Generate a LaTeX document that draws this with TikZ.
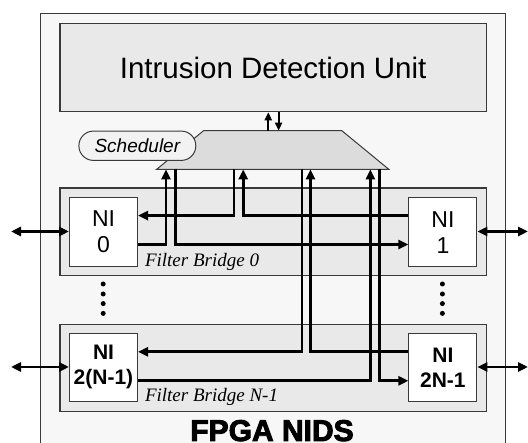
\documentclass[tikz,border=0pt]{standalone}
\usepackage{fontspec}
\setmainfont{Liberation Sans}
\newfontfamily\timesfont{Liberation Serif}
\newfontface\heavyfont[FakeBold=3]{Liberation Sans Bold}
\usetikzlibrary{arrows.meta}
\definecolor{outerfill}{HTML}{F7F7F7}
\definecolor{boxfill}{HTML}{E9E9E9}
\definecolor{schedfill}{HTML}{DCDCDC}
\definecolor{labfill}{HTML}{F2F2F2}
\definecolor{edge}{HTML}{3A3A3A}
\begin{document}
\begin{tikzpicture}[x=1pt,y=-1pt,
  outerbox/.style={draw=edge,line width=1pt,fill=outerfill},
  graybox/.style={draw=edge,line width=1.2pt,fill=boxfill,inner sep=0pt,anchor=north west},
  nibox/.style={draw=edge,line width=1pt,fill=white,inner sep=0pt,anchor=north west,
    minimum width=68pt,minimum height=68.4pt,align=center,font=\fontsize{23}{26}\selectfont},
  conn/.style={line width=2.8pt,-{Triangle[length=10pt,width=9pt]}},
  biconn/.style={line width=2.8pt,{Triangle[length=10pt,width=9pt]}-{Triangle[length=10pt,width=9pt]}},
  thinconn/.style={line width=2pt,-{Triangle[length=8pt,width=7pt]}},
  fblabel/.style={font=\timesfont\itshape\fontsize{19}{22}\selectfont,anchor=base west,inner sep=0pt},
  dot/.style={circle,fill=black,inner sep=0pt,minimum size=5pt}]
\clip (0,0) rectangle (528,443);
% outer FPGA box
\node[outerbox,anchor=north west,minimum width=465.3pt,minimum height=460pt,inner sep=0pt] (fpga) at (39.7,13.5) {};
% Intrusion detection unit
\node[graybox,minimum width=426.5pt,minimum height=88.2pt] (idu) at (59.3,22.9) {};
\node[font=\fontsize{29.5}{33}\selectfont] (idutext) at (idu.center) {Intrusion Detection Unit};
% filter bridges
\node[graybox,minimum width=426.5pt,minimum height=87.9pt] (fb0) at (59.3,187.4) {};
\node[graybox,minimum width=426.5pt,minimum height=87.5pt] (fbn) at (59.3,323.6) {};
% scheduler trapezoid
\coordinate (sbl) at (156.6,169.4);
\coordinate (sbr) at (388.9,169.4);
\coordinate (stl) at (203.7,130.6);
\coordinate (str) at (341.7,130.6);
\draw[draw=edge,line width=1pt,fill=schedfill] (sbl) -- (stl) -- (str) -- (sbr) -- cycle;
\node[draw=edge,line width=1pt,fill=labfill,rounded corners=14.5pt,minimum width=116.9pt,minimum height=29.3pt,
  inner sep=0pt,anchor=north west,font=\itshape\fontsize{19}{22}\selectfont] (schedlabel) at (78.4,130.6) {Scheduler};
% NIs
\node[nibox] (ni0) at (69,197.5) {NI\\0};
\node[nibox] (ni1) at (408.4,197.5) {NI\\1};
\node[nibox,font=\bfseries\fontsize{21}{25}\selectfont] (ni2) at (69,332.7) {NI\\2(N-1)};
\node[nibox,font=\bfseries\fontsize{21}{25}\selectfont] (ni3) at (408.4,332.7) {NI\\2N-1};
% bridge labels
\node[fblabel] (fb0lab) at (144.8,267) {Filter Bridge 0};
\node[fblabel] (fbnlab) at (144.8,402) {Filter Bridge N-1};
% IDU <-> scheduler
\draw[thinconn] (268.3,0 |- stl) -- (268.3,0 |- idu.south);
\draw[thinconn] (278.6,0 |- idu.south) -- (278.6,0 |- stl);
% bridge 0 connections
\draw[conn] (ni0.east |- 0,244.5) -| (166,0 |- sbl);
\draw[conn] (175.1,0 |- sbl) |- (ni1.west |- 0,244.5);
\draw[conn] (234,0 |- sbl) |- (ni0.east |- 0,215.6);
\draw[conn] (ni1.west |- 0,215.6) -| (243.2,0 |- sbl);
% bridge N-1 connections
\draw[conn] (302,0 |- sbl) |- (ni2.east |- 0,351.8);
\draw[conn] (ni3.west |- 0,351.8) -| (310.5,0 |- sbl);
\draw[conn] (ni2.east |- 0,380.8) -| (370.4,0 |- sbl);
\draw[conn] (379.3,0 |- sbl) |- (ni3.west |- 0,380.8);
% external ports
\coordinate (p0) at (11,231.5);
\coordinate (p1) at (528,231.5);
\coordinate (p2) at (11,367);
\coordinate (p3) at (528,367);
\draw[biconn] (p0) -- (ni0.west |- p0);
\draw[biconn] (ni1.east |- p1) -- (p1);
\draw[biconn] (p2) -- (ni2.west |- p2);
\draw[biconn] (ni3.east |- p3) -- (p3);
% dots
\foreach \yy [count=\i] in {284,294,303.6,313.4}{
  \node[dot] (dl\i) at (103.2,\yy) {};
  \node[dot] (dr\i) at (442.4,\yy) {};
}
% title
\node[font=\heavyfont\fontsize{30}{33}\selectfont,anchor=base,inner sep=0pt] (title) at (272,441) {FPGA NIDS};
\end{tikzpicture}
\end{document}
